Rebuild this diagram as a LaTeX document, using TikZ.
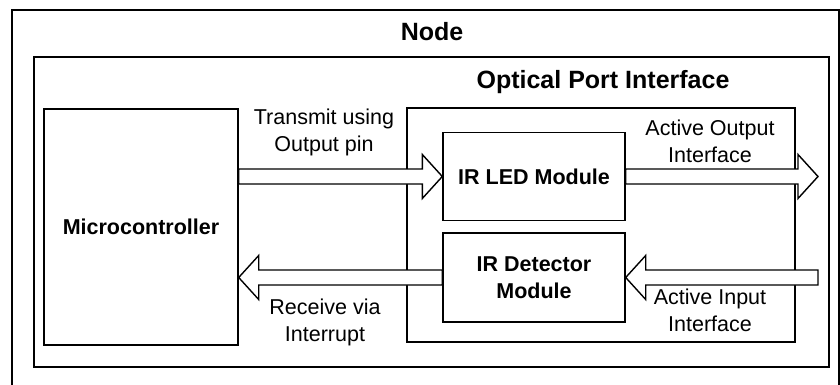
\documentclass[tikz,border=0pt]{standalone}
\usepackage{fontspec}
\setmainfont{Liberation Sans}
\usetikzlibrary{calc}
\tikzset{
  box/.style={draw, line width=1.4pt, rectangle, inner sep=0pt, align=center,
              font=\fontsize{21.5}{27}\selectfont\bfseries},
  frame/.style={draw, line width=2.2pt, rectangle, inner sep=0pt},
  title/.style={font=\fontsize{25}{30}\selectfont\bfseries},
  lbl/.style={align=center, font=\fontsize{21.5}{27}\selectfont, inner sep=0pt},
  barrow/.style={draw, line width=1.4pt, fill=white, line join=miter},
}
\newcommand\blockarrow[2]{%
  \draw[barrow] ($(#1)+(0,7.5)$)
    -- ($(#2)!20pt!(#1)+(0,7.5)$)
    -- ($(#2)!20pt!(#1)+(0,22)$)
    -- (#2)
    -- ($(#2)!20pt!(#1)+(0,-22)$)
    -- ($(#2)!20pt!(#1)+(0,-7.5)$)
    -- ($(#1)+(0,-7.5)$) -- cycle;}
\begin{document}
\begin{tikzpicture}[x=1pt,y=-1pt]
\useasboundingbox (0,0) rectangle (840,385);
\clip (0,0) rectangle (840,385);
% frames
\node[frame, minimum width=827pt, minimum height=390pt] (outer) at (425.5,205) {};
\node[frame, minimum width=795pt, minimum height=310pt] (inner) at (431.5,212) {};
\node[draw, line width=1.4pt, minimum width=388pt, minimum height=234pt, inner sep=0pt] (opt) at (601,225) {};
% titles
\node[title] (ttlnode) at (432,32) {Node};
\node[title] (ttlopt) at (603,82) {Optical Port Interface};
% blocks
\node[box, minimum width=194pt, minimum height=236pt] (mc) at (141,227) {Microcontroller};
\node[box, minimum width=182pt, minimum height=88pt] (led) at (534,176.5) {IR LED Module};
\node[box, minimum width=182pt, minimum height=89pt] (det) at (534,277.5) {IR Detector\\Module};
% labels
\node[lbl] (ltx) at (324,132) {Transmit using\\Output pin};
\node[lbl] (lout) at (710,141) {Active Output\\Interface};
\node[lbl] (lrx) at (325,322) {Receive via\\Interrupt};
\node[lbl] (lin) at (710,310) {Active Input\\Interface};
% connector end points
\coordinate (outtip) at (818,176.5);
\coordinate (intail) at (818,277.5);
% block arrows
\blockarrow{mc.east |- led.west}{led.west}
\blockarrow{led.east}{outtip}
\blockarrow{intail}{det.east}
\blockarrow{det.west}{mc.east |- det.west}
\end{tikzpicture}
\end{document}
